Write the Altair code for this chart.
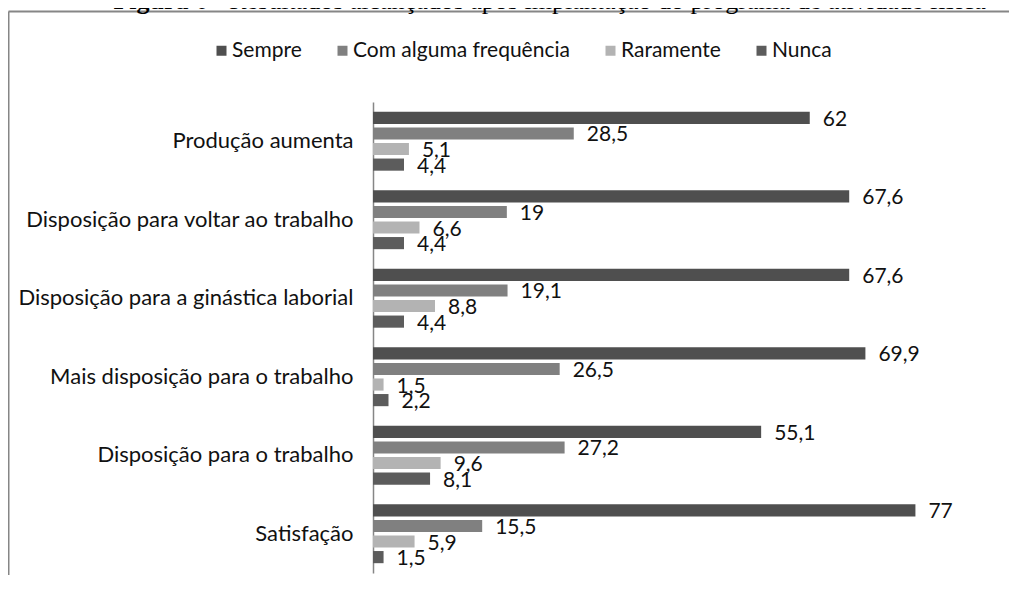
import altair as alt
import pandas as pd

categories = [
    "Produção aumenta",
    "Disposição para voltar ao trabalho",
    "Disposição para a ginástica laborial",
    "Mais disposição para o trabalho",
    "Disposição para o trabalho",
    "Satisfação",
]
series = ["Sempre", "Com alguma frequência", "Raramente", "Nunca"]
sempre = [62, 67.6, 67.6, 69.9, 55.1, 77]
com_alguma = [28.5, 19, 19.1, 26.5, 27.2, 15.5]
raramente = [5.1, 6.6, 8.8, 1.5, 9.6, 5.9]
nunca = [4.4, 4.4, 4.4, 2.2, 8.1, 1.5]
colors = ["#4f4f4f", "#808080", "#b3b3b3", "#5c5c5c"]

title_bold = "Figura 6"
title_rest = "- Resultados alcançados após implantação do programa de atividade física"


def fmt(v):
    s = ("%g" % v)
    return s.replace(".", ",")


rows = []
for name, vals in zip(series, [sempre, com_alguma, raramente, nunca]):
    for c, v in zip(categories, vals):
        rows.append({"categoria": c, "serie": name, "valor": v, "rotulo": fmt(v)})
df = pd.DataFrame(rows)

W, H = 634, 471
PL, PT = 365, 94
PB = 2

FONT = "Lato"

ysc = alt.Y(
    "categoria:N",
    sort=categories,
    scale=alt.Scale(paddingInner=0.25, paddingOuter=0.125),
    axis=alt.Axis(
        title=None,
        ticks=False,
        domainColor="#868686",
        domainWidth=1.5,
        labelFontSize=22,
        labelFont=FONT,
        labelColor="#111111",
        labelPadding=20,
        labelLimit=500,
    ),
)
yoff = alt.YOffset("serie:N", sort=series, scale=alt.Scale(paddingInner=0.22, paddingOuter=0))
xsc = alt.X("valor:Q", scale=alt.Scale(domain=[0, 90]), axis=None)

base = alt.Chart(df)

bars = base.mark_bar().encode(
    x=xsc,
    y=ysc,
    yOffset=yoff,
    color=alt.Color(
        "serie:N",
        sort=series,
        scale=alt.Scale(domain=series, range=colors),
        legend=alt.Legend(
            title=None,
            orient="none",
            legendX=-162,
            legendY=-62,
            direction="horizontal",
            columns=4,
            symbolType="square",
            symbolSize=100,
            symbolStrokeWidth=0,
            labelFontSize=21,
            labelFont=FONT,
            labelColor="#111111",
            labelOffset=0,
            columnPadding=30,
            labelLimit=400,
        ),
    ),
)

labels = base.mark_text(
    align="left", baseline="middle", dx=13, dy=2, fontSize=21, font=FONT, color="#111111"
).encode(x=xsc, y=ysc, yOffset=yoff, text="rotulo:N")

one = pd.DataFrame({"a": [0]})
border_left = alt.Chart(one).mark_rule(color="#868686", strokeWidth=2).encode(
    x=alt.value(-PL + 0.5), y=alt.value(-PT + 3.5), y2=alt.value(H + PB)
)
border_top = alt.Chart(one).mark_rule(color="#868686", strokeWidth=2).encode(
    x=alt.value(-PL + 0.5), x2=alt.value(W + 8), y=alt.value(-PT + 3.5)
)
t1 = alt.Chart(one).mark_text(
    align="right", baseline="alphabetic", font="Liberation Serif", fontSize=26,
    fontWeight="bold", color="black"
).encode(x=alt.value(200 - PL), y=alt.value(1 - PT), text=alt.value(title_bold))
t2 = alt.Chart(one).mark_text(
    align="left", baseline="alphabetic", font="Liberation Serif", fontSize=26, color="black"
).encode(x=alt.value(206 - PL), y=alt.value(1 - PT), text=alt.value(title_rest))

chart = (
    alt.layer(border_left, border_top, t1, t2, bars, labels)
    .properties(
        width=W,
        height=H,
        autosize=alt.AutoSizeParams(type="none"),
        padding={"left": PL, "top": PT, "right": 2, "bottom": PB},
        background="white",
    )
    .configure_view(stroke=None)
)

chart.save("out.html", embed_options={"renderer": "svg", "actions": False})
